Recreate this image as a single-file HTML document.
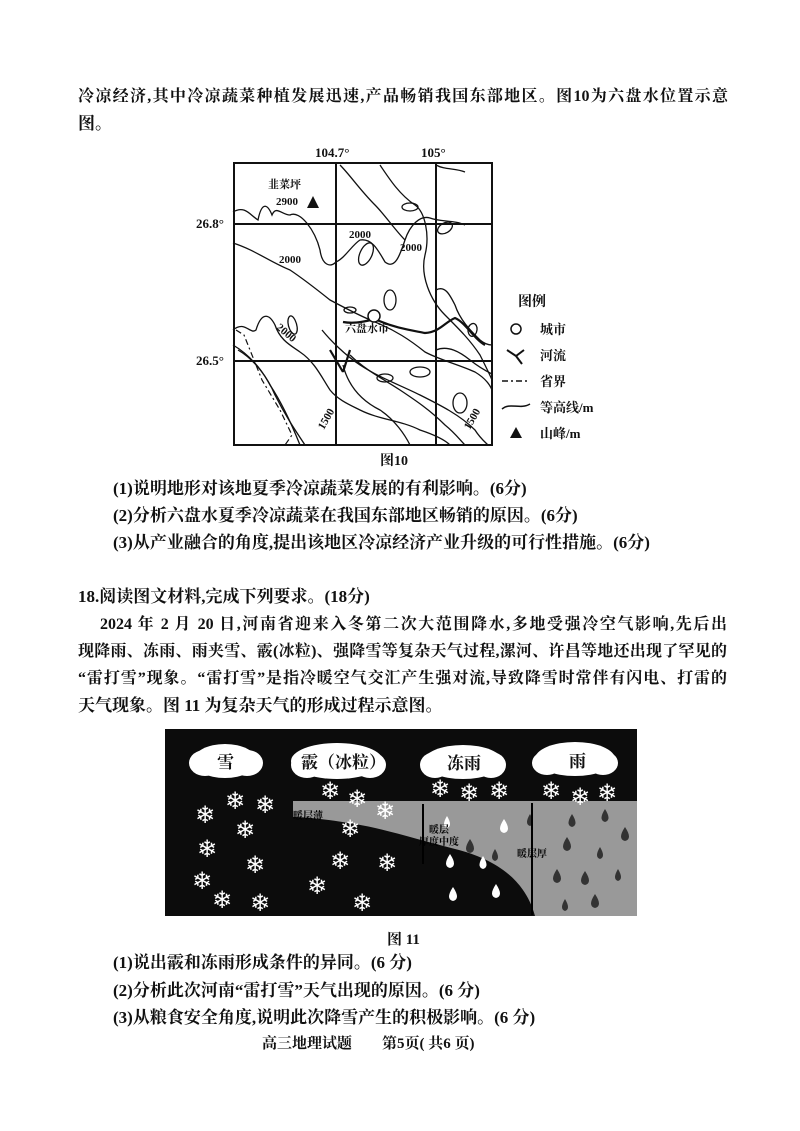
<!DOCTYPE html>
<html><head><meta charset="utf-8">
<style>
body{margin:0;background:#fff;}
#p{position:relative;width:800px;height:1131px;overflow:hidden;background:#fff;font-family:"Liberation Serif","Noto Serif CJK SC",serif;color:#111;}
.t{position:absolute;font-size:17px;line-height:20px;white-space:nowrap;font-weight:700;}
.j{text-align:justify;text-align-last:justify;white-space:nowrap;font-size:16px;}
</style></head><body><div id="p">
<div class="t j" style="left:78px;top:87px;width:650px">冷凉经济,其中冷凉蔬菜种植发展迅速,产品畅销我国东部地区。图10为六盘水位置示意</div>
<div class="t" style="left:78px;top:114px">图。</div>

<svg style="position:absolute;left:0;top:0" width="800" height="480" font-family="Liberation Serif,Noto Serif CJK SC,serif">
<g fill="none" stroke="#111" stroke-width="1.3">
<path d="M233,212 C245,205 250,215 258,220 C262,200 268,205 272,215 C276,205 282,215 290,215 C300,210 315,230 320,250 C322,265 330,268 336,262 C345,258 352,245 360,240 C372,238 378,250 385,262 C395,270 400,255 405,240 C410,225 420,215 430,218 C440,222 455,220 465,225"/>
<path d="M233,243 C255,250 270,262 290,270 C305,280 320,292 330,300 C345,308 360,316 375,322 C395,330 410,340 425,352 C440,360 460,365 475,372 C485,378 490,385 492,390"/>
<path d="M340,165 C350,175 360,190 375,205 C385,215 395,230 405,240"/>
<path d="M380,165 C390,180 400,195 415,205 C425,212 430,235 425,255 C420,275 430,300 445,315 C460,330 470,340 480,355 C485,365 490,375 492,380"/>
<path d="M436,165 C445,170 455,168 465,172"/>
<path d="M233,330 C245,320 250,335 256,330 C262,310 270,315 275,325 C280,340 290,345 300,352 C315,362 322,378 330,390 C338,400 350,405 360,410 C380,420 400,420 420,430 C435,435 445,440 450,445"/>
<path d="M233,345 C250,355 262,370 270,385 C280,400 290,420 300,445"/>
<path d="M238,350 C255,360 268,378 275,395 C285,415 295,430 305,445"/>
<path d="M322,330 C330,340 345,355 360,365 C380,378 400,385 420,395 C440,405 460,415 475,430 C480,438 485,442 488,445"/>
<path d="M350,355 C365,370 385,380 400,390 C415,400 430,410 445,425 C455,433 460,440 465,445"/>
<path d="M343,365 C348,385 360,400 380,410 C395,420 405,435 410,445"/>
<path d="M436,350 C448,345 460,352 470,360 C480,368 488,372 492,374"/>
<path d="M436,290 C445,285 450,295 455,305 C460,320 470,330 480,340 C486,345 490,345 492,345"/>
<ellipse cx="366" cy="254" rx="6" ry="12" transform="rotate(25 366 254)"/>
<ellipse cx="390" cy="300" rx="6" ry="10"/>
<ellipse cx="410" cy="207" rx="8" ry="4"/>
<ellipse cx="445" cy="228" rx="8" ry="5" transform="rotate(-30 445 228)"/>
<ellipse cx="460" cy="403" rx="7" ry="10"/>
<ellipse cx="420" cy="372" rx="10" ry="5"/>
<ellipse cx="350" cy="310" rx="6" ry="3"/>
<ellipse cx="385" cy="378" rx="8" ry="4"/>
<path d="M290,330 C285,320 290,310 295,320 C300,330 296,340 290,330"/>
<path d="M470,325 C475,320 480,328 475,335 C470,340 465,330 470,325"/>
</g>
<g fill="none" stroke="#111" stroke-width="2.2">
<path d="M343,322 C360,325 372,318 377,320 C395,328 410,330 425,333 C440,332 445,322 455,318 C465,322 475,340 485,345"/>
<path d="M343,372 L350,350 M343,372 L330,350"/>
</g>
<path d="M236,330 L244,335 L250,350 L262,380 L280,410 L292,435 L285,445" fill="none" stroke="#111" stroke-width="1.2" stroke-dasharray="6,3,2,3"/>
<circle cx="374" cy="316" r="6" fill="#fff" stroke="#111" stroke-width="1.5"/>
<g fill="none" stroke="#111" stroke-width="2">
<rect x="234" y="163" width="258" height="282"/>
<line x1="336" y1="163" x2="336" y2="445"/><line x1="436" y1="163" x2="436" y2="445"/>
<line x1="234" y1="224" x2="492" y2="224"/><line x1="234" y1="361" x2="492" y2="361"/>
</g>
<polygon points="307,208 313,196 319,208" fill="#111"/>
<g font-size="11" fill="#111" font-weight="700">
<text x="268" y="188">韭菜坪</text><text x="276" y="205">2900</text>
<text x="349" y="238">2000</text><text x="400" y="251">2000</text><text x="279" y="263">2000</text>
<text x="345" y="332">六盘水市</text>
<text x="278" y="338" transform="rotate(40 290 330)">2000</text>
<text x="312" y="430" transform="rotate(-60 318 420)">1500</text>
<text x="458" y="430" transform="rotate(-60 464 420)">1500</text>
</g>
<g font-size="13" fill="#111" font-weight="700">
<text x="315" y="157">104.7°</text><text x="421" y="157">105°</text>
<text x="196" y="228">26.8°</text><text x="196" y="365">26.5°</text>
<text x="518" y="306" font-size="14">图例</text>
<text x="540" y="334">城市</text><text x="540" y="360">河流</text><text x="540" y="386">省界</text>
<text x="540" y="412">等高线/m</text><text x="540" y="438">山峰/m</text>
<text x="380" y="465" font-size="14">图10</text>
</g>
<circle cx="516" cy="329" r="5" fill="#fff" stroke="#111" stroke-width="1.5"/>
<path d="M507,350 L516,356 L524,350 M516,356 L522,364" fill="none" stroke="#111" stroke-width="2"/>
<path d="M502,381 L530,381" stroke="#111" stroke-width="1.5" stroke-dasharray="6,3,2,3"/>
<path d="M502,409 C510,402 520,410 530,404" fill="none" stroke="#111" stroke-width="1.5"/>
<polygon points="510,438 516,427 522,438" fill="#111"/>
</svg>

<div class="t" style="left:113px;top:479px">(1)说明地形对该地夏季冷凉蔬菜发展的有利影响。(6分)</div>
<div class="t" style="left:113px;top:506px">(2)分析六盘水夏季冷凉蔬菜在我国东部地区畅销的原因。(6分)</div>
<div class="t" style="left:113px;top:533px">(3)从产业融合的角度,提出该地区冷凉经济产业升级的可行性措施。(6分)</div>
<div class="t" style="left:78px;top:587px">18.阅读图文材料,完成下列要求。(18分)</div>
<div class="t j" style="left:100px;top:615px;width:627px">2024 年 2 月 20 日,河南省迎来入冬第二次大范围降水,多地受强冷空气影响,先后出</div>
<div class="t j" style="left:78px;top:642px;width:649px">现降雨、冻雨、雨夹雪、霰(冰粒)、强降雪等复杂天气过程,漯河、许昌等地还出现了罕见的</div>
<div class="t j" style="left:78px;top:669px;width:649px">“雷打雪”现象。“雷打雪”是指冷暖空气交汇产生强对流,导致降雪时常伴有闪电、打雷的</div>
<div class="t" style="left:78px;top:696px">天气现象。图 11 为复杂天气的形成过程示意图。</div>

<svg style="position:absolute;left:165px;top:729px" width="472" height="187" font-family="Liberation Serif,Noto Serif CJK SC,serif">
<rect width="472" height="187" fill="#0c0c0c"/>
<path d="M128,72 L472,72 L472,187 L370,187 C360,150 330,130 290,120 C250,110 220,100 190,95 C160,90 140,88 128,88 Z" fill="#999"/>
<g fill="#fff">
<g><ellipse cx="60" cy="32" rx="32" ry="17"/><ellipse cx="40" cy="34" rx="16" ry="13"/><ellipse cx="82" cy="34" rx="16" ry="13"/></g>
<g><ellipse cx="172" cy="32" rx="46" ry="18"/><ellipse cx="142" cy="36" rx="16" ry="13"/><ellipse cx="205" cy="36" rx="16" ry="13"/></g>
<g><ellipse cx="298" cy="33" rx="40" ry="17"/><ellipse cx="270" cy="36" rx="15" ry="13"/><ellipse cx="326" cy="36" rx="15" ry="13"/></g>
<g><ellipse cx="410" cy="30" rx="40" ry="17"/><ellipse cx="382" cy="34" rx="15" ry="12"/><ellipse cx="438" cy="34" rx="15" ry="12"/></g>
</g>
<g font-size="17" fill="#111" font-weight="700">
<text x="52" y="39">雪</text><text x="136" y="39">霰（冰粒）</text><text x="282" y="40">冻雨</text><text x="404" y="38">雨</text>
</g>
<g fill="#fff" font-family="DejaVu Sans" font-size="24" text-anchor="middle">
<text x="40" y="94">❄</text><text x="70" y="80">❄</text><text x="100" y="84">❄</text><text x="80" y="109">❄</text><text x="42" y="128">❄</text>
<text x="90" y="144">❄</text><text x="37" y="160">❄</text><text x="57" y="179">❄</text><text x="95" y="182">❄</text>
<text x="165" y="70">❄</text><text x="192" y="78">❄</text><text x="220" y="90">❄</text><text x="185" y="108">❄</text>
<text x="175" y="140">❄</text><text x="222" y="142">❄</text><text x="152" y="165">❄</text><text x="197" y="182">❄</text>
<text x="275" y="68">❄</text><text x="304" y="72">❄</text><text x="334" y="70">❄</text>
<text x="386" y="70">❄</text><text x="415" y="76">❄</text><text x="442" y="72">❄</text>
</g>
<g fill="#fff">
<path d="M285,125 q-8,12 0,14 q8,-2 0,-14z"/><path d="M318,127 q-7,11 0,13 q7,-2 0,-13z"/><path d="M288,158 q-8,12 0,14 q8,-2 0,-14z"/><path d="M331,155 q-8,12 0,14 q8,-2 0,-14z"/><path d="M282,87 q-6,10 0,12 q6,-2 0,-12z"/><path d="M339,90 q-8,12 0,14 q8,-2 0,-14z"/>
</g>
<g fill="#333">
<path d="M305,110 q-8,12 0,14 q8,-2 0,-14z"/><path d="M330,120 q-6,10 0,12 q6,-2 0,-12z"/><path d="M365,85 q-6,10 0,12 q6,-2 0,-12z"/>
<path d="M407,85 q-7,11 0,13 q7,-2 0,-13z"/><path d="M440,80 q-7,11 0,13 q7,-2 0,-13z"/><path d="M460,98 q-8,12 0,14 q8,-2 0,-14z"/>
<path d="M402,108 q-8,12 0,14 q8,-2 0,-14z"/><path d="M435,118 q-6,10 0,12 q6,-2 0,-12z"/><path d="M392,140 q-8,12 0,14 q8,-2 0,-14z"/>
<path d="M420,142 q-8,12 0,14 q8,-2 0,-14z"/><path d="M453,140 q-6,10 0,12 q6,-2 0,-12z"/><path d="M400,170 q-6,10 0,12 q6,-2 0,-12z"/><path d="M430,165 q-8,12 0,14 q8,-2 0,-14z"/>
</g>
<g stroke="#000" stroke-width="2"><line x1="258" y1="75" x2="258" y2="135"/><line x1="367" y1="74" x2="367" y2="186"/></g>
<g font-size="10" fill="#000" font-weight="700">
<text x="128" y="90">暖层薄</text><text x="264" y="104">暖层</text><text x="254" y="116">厚度中度</text><text x="352" y="128">暖层厚</text>
</g>
</svg>

<div class="t" style="left:387px;top:930px;font-size:15px">图 11</div>
<div class="t" style="left:113px;top:953px">(1)说出霰和冻雨形成条件的异同。(6 分)</div>
<div class="t" style="left:113px;top:981px">(2)分析此次河南“雷打雪”天气出现的原因。(6 分)</div>
<div class="t" style="left:113px;top:1008px">(3)从粮食安全角度,说明此次降雪产生的积极影响。(6 分)</div>
<div class="t" style="left:262px;top:1034px;font-size:15px">高三地理试题　　第5页( 共6 页)</div>
</div></body></html>
